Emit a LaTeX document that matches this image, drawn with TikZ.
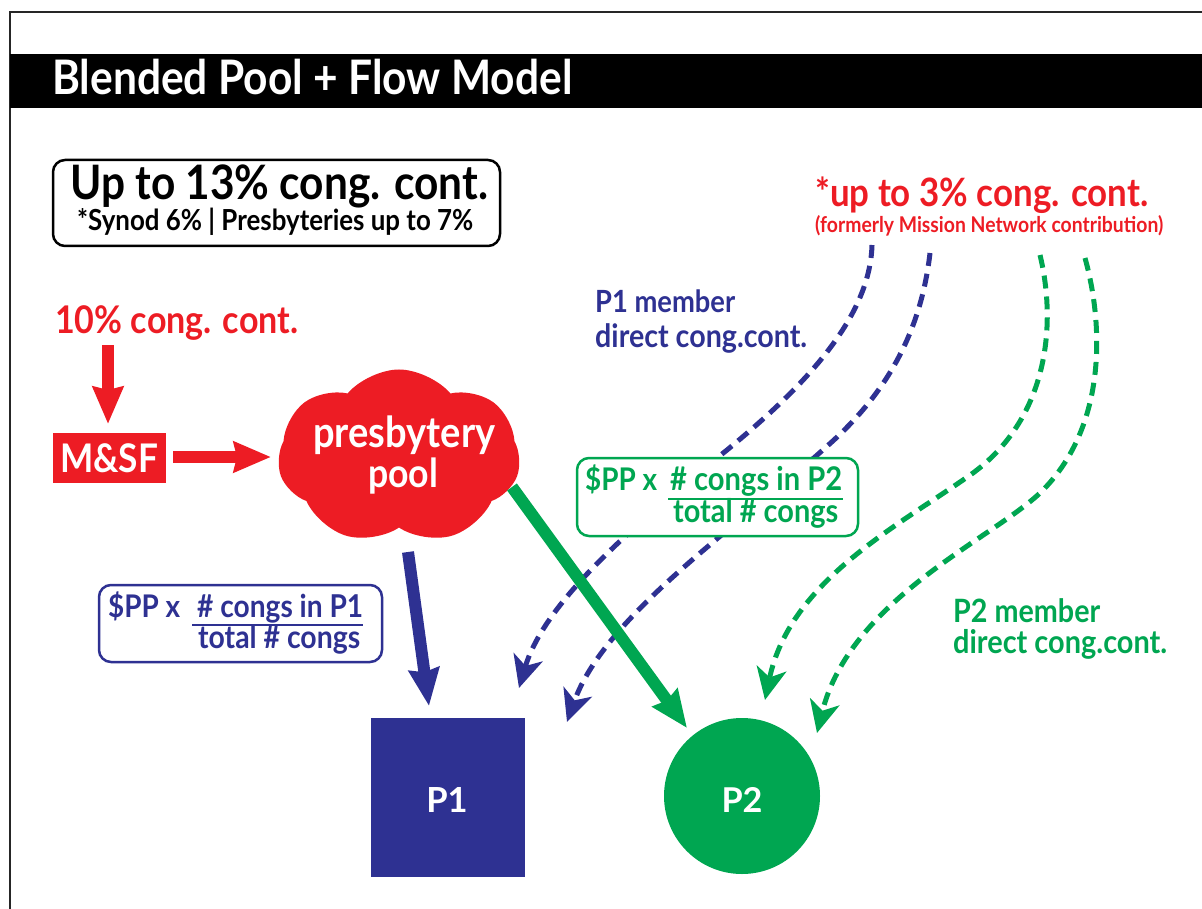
\documentclass[tikz,border=0pt]{standalone}
\usepackage{fontspec}
\setmainfont{Lato}
\usepackage{graphicx}
\usetikzlibrary{arrows.meta,shapes.symbols}
\definecolor{cred}{HTML}{ED1C24}
\definecolor{cblue}{HTML}{2E3192}
\definecolor{cgreen}{HTML}{00A651}
\newcommand{\fw}[2]{\scalebox{1}[1.12]{\resizebox{#1pt}{!}{\bfseries #2}}}
\newcommand{\fh}[2]{\resizebox{!}{#1pt}{\bfseries #2}}
\begin{document}
\begin{tikzpicture}[x=1pt,y=-1pt,
  txt/.style={inner sep=0pt, anchor=base west},
  ctxt/.style={inner sep=0pt, anchor=base},
  dashline/.style={line width=5pt, dash pattern=on 13pt off 8pt,
    -{Stealth[length=32pt,width=30pt,inset=9pt]}},
  thickarrow/.style={line width=12pt, -{Stealth[length=37pt,width=30pt,inset=3pt]}},
  fbox/.style={draw, line width=2.5pt, rounded corners=12pt, fill=white, inner sep=0pt},
  fracbar/.style={line width=2.5pt}]
\useasboundingbox (0,0) rectangle (1202,909);
% frame
\coordinate (fr1) at (10,909);
\coordinate (fr2) at (10,12);
\coordinate (fr3) at (1202,12);
\draw[line width=1.5pt, black!85] (fr1) -- (fr2) -- (fr3);
% title bar
\fill[black] (10,54) rectangle (1202,108);
\node[txt,text=white] (title) at (52,95) {\fw{520}{Blended Pool + Flow Model}};
% top-left box
\node[fbox, draw=black, minimum width=447pt, minimum height=86pt] (capbox) at (276.5,203) {};
\node[txt] (cap1) at (70,200) {\fw{418}{Up to 13\% cong. cont.}};
\node[txt] (cap2) at (77,231) {\fw{396}{*Synod 6\% | Presbyteries up to 7\%}};
% top-right red text
\node[txt,text=cred] (mn1) at (815,207) {\fw{333}{*up to 3\% cong. cont.}};
\node[txt,text=cred] (mn2) at (815,233) {\fw{348}{(formerly Mission Network contribution)}};
% dashed curves
\coordinate (bs1) at (872,245);
\coordinate (bm1) at (727,450);
\coordinate (be1) at (519,688);
\coordinate (bs2) at (930,253);
\coordinate (bm2) at (825,448);
\coordinate (be2) at (567,722);
\coordinate (gs1) at (1040,255);
\coordinate (gm1) at (973,473);
\coordinate (ge1) at (765,700);
\coordinate (gs2) at (1085,258);
\coordinate (gm2) at (1040,493);
\coordinate (ge2) at (817,733);
\draw[dashline, cblue] (bs1) .. controls (870,320) and (800,390) .. (bm1) .. controls (640,520) and (545,600) .. (be1);
\draw[dashline, cblue] (bs2) .. controls (920,340) and (880,400) .. (bm2) .. controls (740,525) and (605,615) .. (be2);
\draw[dashline, cgreen] (gs1) .. controls (1058,330) and (1045,420) .. (gm1) .. controls (900,525) and (790,580) .. (ge1);
\draw[dashline, cgreen] (gs2) .. controls (1105,330) and (1105,430) .. (gm2) .. controls (990,540) and (850,600) .. (ge2);
% 10% text and M&SF
\node[txt,text=cred] (ten) at (55,333) {\fw{243}{10\% cong. cont.}};
\node[fill=cred, minimum width=113pt, minimum height=50pt, inner sep=0pt] (msf) at (109.5,458) {};
\node[txt,text=white] (msft) at (60,472) {\fw{98}{M\&SF}};
\coordinate (r1s) at (108,345);
\coordinate (r1e) at (108,424);
\draw[thickarrow, cred] (r1s) -- (r1e);
\coordinate (r2s) at (173,457);
\coordinate (r2e) at (271,457);
\draw[thickarrow, cred] (r2s) -- (r2e);
% cloud
\node[cloud, fill=cred, cloud puffs=7, cloud puff arc=100, aspect=1.4,
  minimum width=242pt, minimum height=175pt, inner sep=0pt] (pool) at (399,457) {};
\node[txt,text=white] (pool1) at (313,447) {\fw{182}{presbytery}};
\node[txt,text=white] (pool2) at (368,487) {\fw{70}{pool}};
% member labels
\node[txt,text=cblue] (p1m1) at (595,313) {\fw{140}{P1 member}};
\node[txt,text=cblue] (p1m2) at (595,347) {\fw{212}{direct cong.cont.}};
\node[txt,text=cgreen] (p2m1) at (953,622) {\fw{147}{P2 member}};
\node[txt,text=cgreen] (p2m2) at (953,653) {\fw{214}{direct cong.cont.}};
% green formula box
\node[fbox, draw=cgreen, minimum width=281pt, minimum height=78pt] (gbox) at (717.5,497) {};
\node[txt,text=cgreen] (g1) at (585,490) {\fw{72}{\$PP x}};
\node[txt,text=cgreen] (g2) at (670,490) {\fw{172}{\# congs in P2}};
\node[txt,text=cgreen] (g3) at (673,522) {\fw{165}{total \# congs}};
\coordinate (gb1) at (668,499);
\coordinate (gb2) at (843,499);
\draw[fracbar, cgreen] (gb1) -- (gb2);
% blue formula box
\node[fbox, draw=cblue, minimum width=283pt, minimum height=77pt] (bbox) at (240.5,623.5) {};
\node[txt,text=cblue] (bf1) at (108,617) {\fw{72}{\$PP x}};
\node[txt,text=cblue] (bf2) at (197,617) {\fw{166}{\# congs in P1}};
\node[txt,text=cblue] (bf3) at (198,648) {\fw{162}{total \# congs}};
\coordinate (bb1) at (192,625);
\coordinate (bb2) at (363,625);
\draw[fracbar, cblue] (bb1) -- (bb2);
% thick arrows
\coordinate (t1s) at (408,552);
\coordinate (t1e) at (429,706);
\draw[thickarrow, cblue] (t1s) -- (t1e);
\coordinate (t2s) at (512,487);
\coordinate (t2e) at (687,728);
\draw[thickarrow, cgreen] (t2s) -- (t2e);
% P1 and P2
\node[fill=cblue, minimum width=154pt, minimum height=159pt, inner sep=0pt] (p1) at (448,797.5) {};
\node[ctxt,text=white] (p1t) at (447,812) {\fh{25}{P1}};
\node[circle, fill=cgreen, minimum size=156pt, inner sep=0pt] (p2) at (742,796) {};
\node[ctxt,text=white] (p2t) at (742,812) {\fh{25}{P2}};
\end{tikzpicture}
\end{document}
